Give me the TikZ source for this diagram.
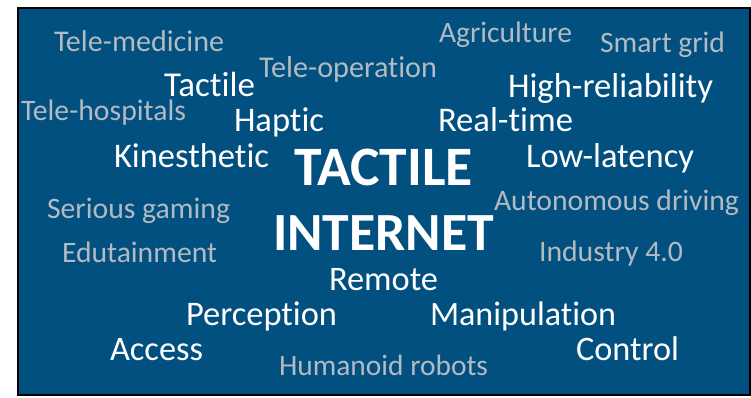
\documentclass[tikz,border=0pt]{standalone}
\usepackage{fontspec}
\usepackage{graphicx}
\setmainfont{Carlito}[Ligatures={NoCommon}]
\definecolor{bgblue}{RGB}{2,80,127}
\definecolor{wordgray}{RGB}{178,186,194}
\tikzset{
  word/.style={anchor=base west, inner sep=0pt, outer sep=0pt, text=white},
  grayword/.style={word, text=wordgray},
}
\newcommand{\wfit}[2]{\resizebox{#1pt}{!}{#2}}
\begin{document}
\begin{tikzpicture}[x=1pt,y=-1pt]
\useasboundingbox (0,0) rectangle (751,397);
\node[draw=black, line width=2pt, fill=bgblue, inner sep=0pt, minimum width=732pt, minimum height=387pt, anchor=north west] (frame) at (17,7) {};
% gray words
\node[grayword] (telemed) at (54,51) {\wfit{170}{Tele-medicine}};
\node[grayword] (agri) at (439,42) {\wfit{133}{Agriculture}};
\node[grayword] (smart) at (600,52) {\wfit{125}{Smart grid}};
\node[grayword] (teleop) at (259,77) {\wfit{178}{Tele-operation}};
\node[grayword] (telehosp) at (21,120) {\wfit{165}{Tele-hospitals}};
\node[grayword] (serious) at (47,218) {\wfit{183}{Serious gaming}};
\node[grayword] (auto) at (494,210) {\wfit{245}{Autonomous driving}};
\node[grayword] (edu) at (62,262) {\wfit{155}{Edutainment}};
\node[grayword] (ind) at (539,261) {\wfit{144}{Industry 4.0}};
\node[grayword] (humanoid) at (279,375) {\wfit{209}{Humanoid robots}};
% white words
\node[word] (tactile) at (164,96) {\wfit{91}{Tactile}};
\node[word] (highrel) at (508,97) {\wfit{205}{High-reliability}};
\node[word] (haptic) at (234,131) {\wfit{90}{Haptic}};
\node[word] (realtime) at (438,131) {\wfit{135}{Real-time}};
\node[word] (kines) at (114,167) {\wfit{155}{Kinesthetic}};
\node[word] (lowlat) at (526,167) {\wfit{168}{Low-latency}};
\node[word] (remote) at (329,290) {\wfit{109}{Remote}};
\node[word] (percep) at (186,325) {\wfit{151}{Perception}};
\node[word] (manip) at (430,325) {\wfit{186}{Manipulation}};
\node[word] (access) at (110,360) {\wfit{93}{Access}};
\node[word] (control) at (576,360) {\wfit{103}{Control}};
% title
\node[word] (t1) at (294,185) {\wfit{179}{\bfseries TACTILE}};
\node[word] (t2) at (273,250) {\wfit{221}{\bfseries INTERNET}};
\end{tikzpicture}
\end{document}
